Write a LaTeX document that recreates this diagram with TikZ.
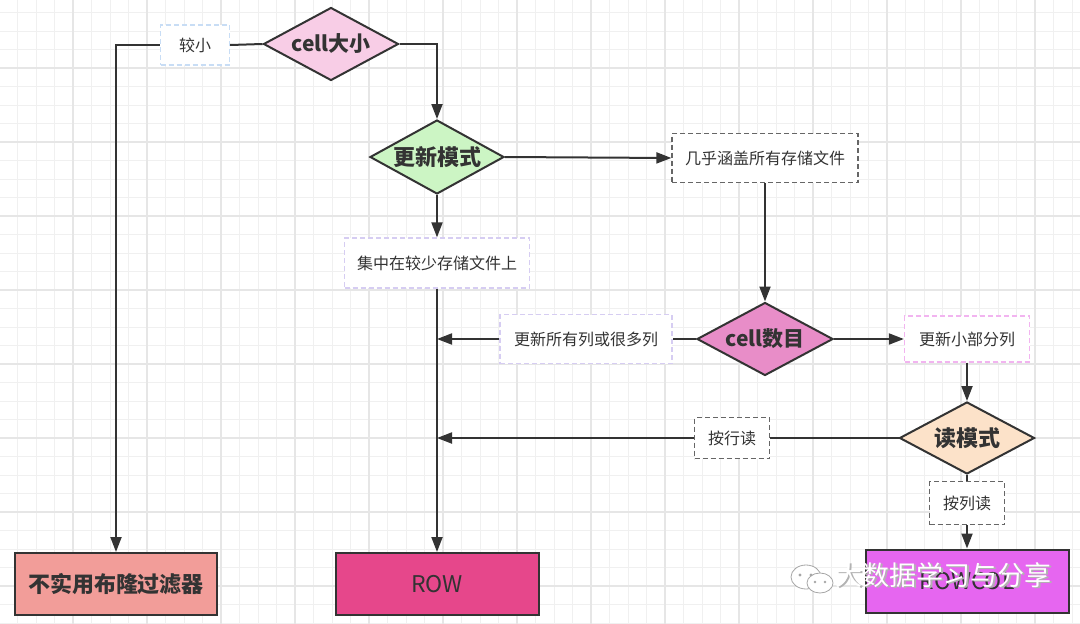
\documentclass[tikz,border=0pt]{standalone}
\usepackage{fontspec}
\setmainfont{Noto Sans CJK SC}
\usetikzlibrary{shapes.geometric,arrows.meta}
\definecolor{ink}{HTML}{333333}
\definecolor{gminor}{HTML}{F0F0F0}
\definecolor{gmajor}{HTML}{E6E6E6}
\definecolor{dpink}{HTML}{F8CDE6}
\definecolor{dgreen}{HTML}{CCF5C4}
\definecolor{dmag}{HTML}{E88DC8}
\definecolor{dpeach}{HTML}{FCE2C9}
\definecolor{bsalmon}{HTML}{F29D99}
\definecolor{brow}{HTML}{E6478B}
\definecolor{bviolet}{HTML}{E666F0}
\definecolor{eblue}{HTML}{C8DDF5}
\definecolor{elav}{HTML}{D6CDF2}
\definecolor{epink}{HTML}{F2B4F0}
\definecolor{egray}{HTML}{666666}
\tikzset{
  dec/.style={shape=diamond,draw=ink,line width=2pt,inner sep=0pt,aspect=1.85,
    font=\bfseries\fontsize{21}{23}\selectfont,text=ink},
  lab/.style={draw,line width=1.3pt,dash pattern=on 5pt off 3pt,fill=white,
    inner sep=0pt,font=\fontsize{16}{18}\selectfont,text=ink},
  endbox/.style={draw=ink,line width=2pt,inner sep=0pt,
    font=\bfseries\fontsize{22}{24}\selectfont,text=ink},
  conn/.style={draw=ink,line width=2pt},
  arr/.style={conn,-{Triangle[length=15pt,width=11pt]}}
}
\begin{document}
\begin{tikzpicture}[x=1pt,y=-1pt]
\useasboundingbox (0,0) rectangle (1080,624);
\fill[white] (0,0) rectangle (1080,624);
% grid
\foreach \i in {-3,...,58} {
  \draw[gminor,line width=0.8pt] (17.5+\i*18.5,0) -- (17.5+\i*18.5,624);
}
\foreach \i in {-3,...,34} {
  \draw[gminor,line width=0.8pt] (0,12.5+\i*18.5) -- (1080,12.5+\i*18.5);
}
\foreach \i in {-1,...,15} {
  \draw[gmajor,line width=1.2pt] (73+\i*74,0) -- (73+\i*74,624);
}
\foreach \i in {-1,...,9} {
  \draw[gmajor,line width=1.2pt] (0,68+\i*74) -- (1080,68+\i*74);
}
% decisions
\node[dec,fill=dpink,minimum width=135pt,minimum height=73pt] (d1) at (331,44) {cell大小};
\node[dec,fill=dgreen,minimum width=134pt,minimum height=74pt,font=\bfseries\fontsize{22}{24}\selectfont] (d2) at (437,157) {更新模式};
\node[dec,fill=dmag,minimum width=136pt,minimum height=73pt] (d3) at (765,339) {cell数目};
\node[dec,fill=dpeach,minimum width=135pt,minimum height=72pt,font=\bfseries\fontsize{22}{24}\selectfont] (d4) at (967,438) {读模式};
% labels
\node[lab,draw=eblue,minimum width=69pt,minimum height=40pt] (l1) at (195,45) {较小};
\node[lab,draw=elav,minimum width=185pt,minimum height=50pt] (l2) at (437,263) {集中在较少存储文件上};
\node[lab,draw=egray,minimum width=186pt,minimum height=49pt] (l3) at (765,158) {几乎涵盖所有存储文件};
\node[lab,draw=elav,minimum width=172pt,minimum height=49pt] (l4) at (586,339) {更新所有列或很多列};
\node[lab,draw=epink,minimum width=125pt,minimum height=46pt] (l5) at (967,339) {更新小部分列};
\node[lab,draw=egray,minimum width=75pt,minimum height=41pt] (l6) at (732,438) {按行读};
\node[lab,draw=egray,minimum width=75pt,minimum height=43pt] (l7) at (967,503) {按列读};
% end boxes
\node[endbox,fill=bsalmon,minimum width=202pt,minimum height=62pt] (b1) at (116,584) {不实用布隆过滤器};
\node[endbox,fill=brow,minimum width=203pt,minimum height=62pt,font=\fontsize{23}{25}\selectfont] (b2) at (437,584) {ROW};
\node[endbox,fill=bviolet,minimum width=203pt,minimum height=63pt,font=\fontsize{23}{25}\selectfont] (b3) at (967,581) {ROWCOL};
% junctions
\coordinate (j1) at (437,339);
\coordinate (j2) at (437,438);
% connectors
\draw[conn] (d1.west) -- (l1.east);
\draw[arr] (l1.west) -| (b1.north);
\draw[arr] (d1.east) -| (d2.north);
\draw[arr] (d2.east) -- (l3.west);
\draw[arr] (d2.south) -- (l2.north);
\draw[arr] (l2.south) -- (b2.north);
\draw[arr] (l3.south) -- (d3.north);
\draw[conn] (d3.west) -- (l4.east);
\draw[arr] (l4.west) -- (j1);
\draw[arr] (d3.east) -- (l5.west);
\draw[arr] (l5.south) -- (d4.north);
\draw[conn] (d4.west) -- (l6.east);
\draw[arr] (l6.west) -- (j2);
\draw[conn] (d4.south) -- (l7.north);
\draw[arr] (l7.south) -- (b3.north);
% watermark
\begin{scope}[shift={(806,577)}]
  \fill[white,draw=gray!70,line width=0.8pt] (0,0) ellipse (15pt and 12pt);
  \fill[white,draw=gray!70,line width=0.8pt] (14,6) ellipse (13pt and 10pt);
  \fill[gray!70] (-6,-2) circle (1.6pt) (5,-2) circle (1.6pt);
  \fill[gray!70] (9,5) circle (1.4pt) (19,5) circle (1.4pt);
\end{scope}
\node[text=gray!60,font=\fontsize{27}{29}\selectfont,anchor=west] (wms) at (833.5,576.5) {大数据学习与分享};
\node[text=white,font=\fontsize{27}{29}\selectfont,anchor=west] (wm) at (832,575) {大数据学习与分享};
\end{tikzpicture}
\end{document}
